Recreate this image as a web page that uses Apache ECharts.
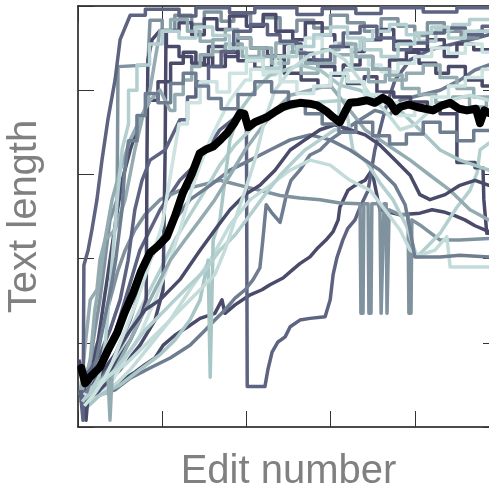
<!DOCTYPE html>
<html>
<head>
<meta charset="utf-8">
<script src="https://cdn.jsdelivr.net/npm/echarts@6/dist/echarts.min.js"></script>
<style>
html,body{margin:0;padding:0;background:#fff;}
#main{width:489px;height:484px;}
</style>
</head>
<body>
<div id="main"></div>
<script>
// x = edit number (0-100), y = text length (0-500), ticks without labels
var xTicks = [0, 20, 40, 60, 80, 100];
var yTicks = [0, 100, 200, 300, 400, 500];

// mean text length (thick black)
var meanLine = [[0.8,70],[1.7,52],[3,60],[5.2,71],[7,90],[9.3,112],[11,135],[13.1,159],[15,185],[17.1,207],[19,215],[21.1,226],[23,250],[24.9,278],[27,300],[28.9,325],[30.5,330],[32.1,333],[34,342],[35.4,349],[37,360],[38.5,373],[39.5,372],[40.4,356],[42,362],[44.9,368],[47,375],[48.7,380],[50.5,383],[52.7,385],[55,384],[56.8,382],[59,375],[60.6,368],[62.2,362],[63.5,375],[64.6,385],[66.5,386],[68.6,388],[70.5,385],[72.4,391],[74,386],[75.5,375],[76.5,380],[78.5,383],[80.5,380],[82.5,378],[84.3,376],[86.5,382],[88.4,385],[90.5,378],[92.4,376],[94.5,378],[95.5,361],[96.5,376],[97.6,373],[100,372]];

// single articles
var art1 = [[0.5,32],[2.4,26],[4,38],[6.4,42],[8.8,50],[11.2,58],[13.5,65],[15.9,74],[18.3,82],[20.2,97],[23,109],[26.1,119],[29,129],[32.5,135],[34.2,151],[34.9,135],[37.3,145],[40.9,157],[43.7,163],[45.6,169],[48.7,177],[50.8,186],[52.7,194],[55.1,202],[57,213],[58.9,222],[60.6,232],[61.8,246],[62.2,261],[64.1,281],[65.8,287],[68.2,293],[69.8,305],[71.7,258],[76.5,252],[81.2,254],[84.1,258],[87.2,255],[89.5,251],[91.9,246],[94.3,239],[97.6,232],[100,230]];
var art2 = [[2.9,44],[7.6,91],[11.2,151],[14.7,210],[19.5,258],[24.2,293],[29,317],[33.7,353],[37.3,367],[40,373],[40.2,48],[44.4,48],[45.1,68],[46.1,89],[47.5,101],[49.2,107],[50.4,119],[52.7,127],[55.1,129],[58.7,131],[59.9,151],[60.6,181],[61.5,201],[62.9,222],[64.1,236],[65.8,246],[67,261],[68.9,281],[70.5,329],[72.9,376],[75.3,412],[78.9,436],[83.6,448],[88.4,454],[93.1,460],[97.6,466],[100,466]];
var art3 = [[1,20],[2.9,30],[5.2,38],[8.8,44],[12.4,58],[17.1,70],[21.9,82],[26.6,97],[30.2,115],[32.5,127],[34.9,139],[37.3,153],[39.7,163],[41.6,175],[43.2,189],[43.9,222],[44.7,264],[46.1,254],[48,243],[48.7,258],[49.6,278],[50.6,293],[52.7,305],[55.1,323],[57.5,329],[59.9,341],[63.4,353],[67,365],[70.5,376],[74.1,371],[76.5,388],[81.2,394],[86,400],[90.7,412],[94.3,424],[97.6,430],[100,430]];
var art4 = [[0.5,38],[2.4,56],[4,91],[5.7,115],[7.6,151],[9.5,186],[11.2,210],[13.5,234],[15.9,252],[19.5,270],[24.2,281],[29,287],[33.7,293],[38.5,287],[43.2,281],[48,275],[52.7,272],[57.5,270],[62.2,266],[67,265],[67.2,135],[67.7,135],[67.9,265],[68.9,265],[69.1,135],[69.6,135],[69.8,265],[71.7,265],[72,135],[72.4,135],[72.7,265],[73.2,265],[73.4,135],[73.6,135],[73.9,258],[76.5,252],[78.4,252],[78.6,135],[79.1,135],[79.3,246],[81.2,240],[86,222],[90.7,222],[97.6,224],[100,224]];
var art5 = [[1,32],[2.9,44],[5.2,56],[8.8,80],[12.4,115],[15.9,151],[19.5,186],[23,222],[26.6,252],[30.2,281],[33.7,311],[37.3,335],[40.9,353],[44.4,371],[48,376],[52.7,382],[57.5,386],[63.4,388],[65.3,329],[68.6,314],[71.7,290],[74.8,270],[78.1,238],[80.5,202],[82.9,214],[86,230],[90,261],[93.1,281],[94.8,302],[95.5,329],[97.6,337],[100,340]];
var art6 = [[1.4,26],[4,34],[7.6,44],[12.4,68],[17.1,97],[21.9,127],[26.6,163],[31.4,198],[36.1,240],[40.9,270],[45.6,287],[50.4,305],[55.1,317],[59.9,311],[64.6,293],[69.4,281],[72.9,258],[76.5,234],[78.9,210],[81.2,204],[84.8,210],[87.6,226],[88.4,190],[97.6,190],[100,190]];
var art7 = [[1.9,38],[5.2,56],[8.8,86],[12.4,127],[14.7,163],[17.1,198],[19.5,222],[23,246],[26.6,270],[31.4,287],[36.1,305],[40.9,317],[45.6,329],[50.4,341],[55.1,347],[59.9,341],[64.6,329],[68.2,317],[71.7,305],[75.3,287],[77.7,264],[78.9,234],[80,202],[86,202],[90.7,204],[97.6,202],[100,202]];
var art8 = [[1.4,32],[3.3,68],[4.8,103],[6.2,151],[7.6,198],[9,246],[10.5,293],[12.4,329],[14.7,365],[17.1,388],[19,388],[19,410],[22,410],[22,432],[25,432],[25,445],[28,445],[28,430],[31,430],[31,452],[35,452],[35,440],[38,440],[38,462],[41,462],[41,450],[45,450],[45,441],[49,441],[49,455],[53,455],[53,436],[57,436],[57,428],[61,428],[61,418],[64,418],[64,408],[68,408],[68,416],[71,416],[71,398],[75,398],[75,392],[79,392],[79,386],[83,386],[83,380],[86,380],[86,372],[90,372],[90,314],[94.3,314],[94.3,308],[96.2,308],[96.4,270],[97.1,230],[100,230]];
var art9 = [[1.7,38],[4,115],[5.2,151],[6.4,198],[7.6,246],[9.3,270],[9.5,428],[16.6,430],[17.1,483],[20,483],[20,470],[23,470],[23,489],[27,489],[27,478],[30,478],[30,493],[34,493],[34,482],[37,482],[37,490],[41,490],[41,476],[44,476],[44,486],[48,486],[48,470],[52,470],[52,483],[56,483],[56,474],[60,474],[60,489],[64,489],[64,480],[68,480],[68,470],[72,470],[72,485],[76,485],[76,476],[80,476],[80,465],[83,465],[83,480],[87,480],[87,470],[91,470],[91,462],[95,462],[95,470],[100,470]];
var art10 = [[1.7,32],[5.2,50],[8.8,74],[12.4,103],[14.7,127],[16.2,151],[16.4,329],[16.6,436],[17.6,460],[19.5,471],[21,471],[21,452],[24,452],[24,440],[27,440],[27,432],[30,432],[30,440],[32,440],[32,428],[35,428],[35,445],[38,445],[38,435],[42,435],[42,426],[46,426],[46,438],[49,438],[49,420],[53,420],[53,412],[57,412],[57,404],[60,404],[60,418],[63,418],[63,430],[67,430],[67,440],[70,440],[70,425],[74,425],[74,436],[78,436],[78,445],[81,445],[81,432],[85,432],[85,420],[88,420],[88,428],[92,428],[92,412],[96,412],[96,405],[100,405]];
var art11 = [[2.4,34],[5.2,44],[10,68],[14.7,97],[18.3,127],[20.2,163],[20.7,329],[20.9,471],[24,471],[24,480],[27,480],[27,466],[30,466],[30,485],[33,485],[33,472],[36,472],[36,488],[40,488],[40,476],[44,476],[44,490],[47,490],[47,470],[51,470],[51,460],[54,460],[54,480],[58,480],[58,466],[61,466],[61,452],[65,452],[65,446],[68,446],[68,460],[72,460],[72,472],[75,472],[75,458],[79,458],[79,448],[83,448],[83,460],[87,460],[87,440],[90,440],[90,455],[94,455],[94,448],[100,448]];
var art12 = [[0.5,38],[1.7,97],[2.9,151],[4.5,163],[5.2,198],[6.4,222],[8.8,234],[11.2,270],[13.5,329],[15.2,365],[17.1,400],[18.3,436],[19.5,471],[22,471],[22,484],[26,484],[26,470],[29,470],[29,458],[32,458],[32,446],[35,446],[35,455],[39,455],[39,440],[43,440],[43,450],[46,450],[46,432],[50,432],[50,445],[53,445],[53,420],[57,420],[57,432],[61,432],[61,442],[65,442],[65,425],[69,425],[69,410],[73,410],[73,418],[77,418],[77,402],[81,402],[81,395],[85,395],[85,385],[89,385],[89,392],[93,392],[93,380],[97,380],[97,388],[100,388]];
var art13 = [[1,20],[4,32],[7.6,50],[11.2,80],[14.7,109],[18.3,151],[21.9,198],[24.2,234],[26.6,276],[29,311],[31.4,341],[33.7,365],[36.1,388],[39.7,412],[41,412],[41,425],[44,425],[44,418],[47,418],[47,440],[50,440],[50,452],[54,452],[54,462],[58,462],[58,448],[61,448],[61,456],[65,456],[65,440],[69,440],[69,430],[72,430],[72,422],[76,422],[76,432],[80,432],[80,440],[84,440],[84,450],[88,450],[88,444],[92,444],[92,455],[96,455],[96,445],[100,445]];
var art14 = [[1.4,20],[5.2,38],[10,50],[14.7,68],[19.5,86],[23,103],[26.6,127],[29,151],[30.9,198],[31.4,59],[31.8,59],[32.1,222],[33.7,246],[34.9,293],[36.1,341],[38.5,376],[42,400],[45.6,418],[49.2,424],[52.7,430],[57.5,424],[62.2,406],[67,400],[71.7,388],[76.5,376],[81.2,353],[86,329],[90.7,317],[97.6,305],[100,305]];
var art15 = [[0.5,50],[2.9,44],[5.2,56],[7.1,62],[7.6,8],[8.1,62],[11.2,91],[14.7,127],[18.3,163],[21.9,198],[25.4,222],[29,246],[32.5,270],[36.1,299],[39.7,329],[43.2,353],[46.8,376],[50.4,394],[55.1,400],[59.9,406],[64.6,376],[68.2,353],[71.7,341],[75.3,329],[78.9,317],[83.6,299],[88.4,281],[93.1,258],[97.6,246],[100,246]];
var art16 = [[0.2,80],[1.4,56],[1.9,8],[2.4,38],[5.2,62],[8.8,86],[12.4,115],[15.9,139],[19.5,151],[24.2,175],[29,210],[32.5,234],[36.1,258],[39.7,276],[43.2,287],[46.8,305],[50.4,329],[53.9,341],[57.5,353],[61,359],[64.6,353],[68.2,347],[71.7,335],[75.3,317],[78.9,299],[81.2,276],[83.6,270],[87.2,276],[90.7,287],[94.3,293],[97.6,287],[100,287]];
var art17 = [[0.5,44],[1.2,8],[1.4,192],[2.4,210],[3.3,234],[4.5,270],[5.7,317],[7.1,365],[8.8,412],[10,460],[12.4,489],[16,489],[16,496],[24,496],[24,488],[28,488],[28,498],[36,498],[36,492],[42,492],[42,498],[52,498],[52,490],[58,490],[58,497],[66,497],[66,491],[72,491],[72,498],[82,498],[82,493],[90,493],[90,498],[100,498]];
var art18 = [[1.7,34],[5.2,50],[8.8,68],[12.4,91],[15.9,115],[19.5,133],[23,151],[26.6,169],[30.2,186],[33.7,210],[37.3,228],[40.9,252],[44.4,276],[48,299],[51.5,317],[53.9,329],[57.5,341],[61,353],[62,353],[62,400],[63.4,424],[65,424],[65,448],[67,448],[67,460],[70,460],[70,470],[74,470],[74,478],[78,478],[78,466],[81,466],[81,458],[85,458],[85,472],[89,472],[89,478],[93,478],[93,484],[100,484]];
var art19 = [[1,44],[2.9,80],[4,139],[5.2,175],[6.4,222],[8.1,270],[10,305],[12.4,341],[14.7,365],[17.1,388],[19.5,400],[21.9,376],[23,376],[23,395],[25,395],[25,412],[27,412],[27,428],[29,428],[29,442],[32,442],[32,460],[35,460],[35,472],[38,472],[38,462],[41,462],[41,450],[44,450],[44,440],[47,440],[47,456],[51,456],[51,445],[54,445],[54,432],[58,432],[58,448],[62,448],[62,455],[66,455],[66,440],[70,440],[70,425],[74,425],[74,412],[78,412],[78,420],[82,420],[82,430],[86,430],[86,415],[90,415],[90,402],[94,402],[94,392],[100,392]];
var art20 = [[0.7,56],[2.9,68],[5.2,86],[7.6,115],[10,151],[11.9,198],[13.5,258],[15.2,293],[17.1,317],[20.7,329],[24.2,365],[26,365],[26,392],[28,392],[28,410],[31,410],[31,428],[34,428],[34,446],[37,446],[37,470],[41,470],[41,478],[45,478],[45,466],[48,466],[48,458],[52,458],[52,444],[56,444],[56,436],[60,436],[60,452],[63,452],[63,468],[67,468],[67,476],[71,476],[71,462],[75,462],[75,448],[79,448],[79,456],[83,456],[83,468],[87,468],[87,474],[92,474],[92,466],[96,466],[96,476],[100,476]];
var art21 = [[1.4,38],[4,50],[7.6,62],[11.2,74],[14.7,91],[18.3,109],[21.9,127],[25.4,145],[29,163],[32.5,181],[34.9,210],[37.3,246],[39.7,281],[42,317],[44.4,365],[46.8,400],[50.4,424],[55.1,442],[59.9,448],[63.4,436],[67,412],[69.4,394],[72.9,376],[76.5,353],[80,359],[83.6,376],[88.4,388],[93.1,394],[97.6,388],[100,388]];
var art22 = [[1,30],[3,42],[5,60],[6.5,100],[7.5,160],[8.5,220],[9.5,280],[10.5,330],[12,360],[12,400],[14,400],[14,430],[17,430],[17,455],[20,455],[20,470],[24,470],[24,462],[28,462],[28,475],[32,475],[32,465],[36,465],[36,450],[40,450],[40,438],[44,438],[44,426],[48,426],[48,440],[52,440],[52,452],[56,452],[56,466],[60,466],[60,475],[64,475],[64,462],[68,462],[68,448],[72,448],[72,440],[76,440],[76,455],[80,455],[80,468],[84,468],[84,475],[88,475],[88,462],[92,462],[92,470],[100,470]];
var art23 = [[1.5,25],[4,40],[6,55],[8,75],[10,100],[12,125],[14,150],[16,180],[18,210],[20,240],[21,270],[22,300],[23,330],[24,360],[26,360],[26,385],[29,385],[29,410],[33,410],[33,398],[36,398],[36,420],[40,420],[40,435],[44,435],[44,422],[48,422],[48,410],[52,410],[52,396],[56,396],[56,405],[60,405],[60,420],[64,420],[64,410],[68,410],[68,395],[72,395],[72,385],[76,385],[76,370],[80,370],[80,380],[84,380],[84,392],[88,392],[88,405],[92,405],[92,415],[96,415],[96,425],[100,425]];
var art24 = [[2,40],[4,70],[6,120],[8,170],[9,200],[10.5,260],[11,300],[12,340],[14,340],[14,370],[16,370],[16,396],[19,396],[19,385],[22,385],[22,408],[25,408],[25,420],[28,420],[28,405],[31,405],[31,390],[34,390],[34,378],[38,378],[38,395],[42,395],[42,410],[46,410],[46,398],[50,398],[50,385],[54,385],[54,372],[58,372],[58,360],[62,360],[62,350],[66,350],[66,362],[70,362],[70,346],[74,346],[74,336],[78,336],[78,348],[82,348],[82,362],[86,362],[86,350],[90,350],[90,340],[94,340],[94,352],[100,352]];

var articles = [art1, art2, art3, art4, art5, art6, art7, art8, art9, art10, art11, art12,
                art13, art14, art15, art16, art17, art18, art19, art20, art21, art22, art23, art24];
var articleColors = ['#4a4b6b', '#5d6380', '#6f7d90', '#7f929e', '#b3d0cf', '#c3dcda', '#6f7d90',
                     '#4a4b6b', '#7f929e', '#4a4b6b', '#4a4b6b', '#94acb1', '#cde3e1', '#a9c6c6',
                     '#94acb1', '#4a4b6b', '#5d6380', '#b3cfcf', '#94acb1', '#5d6380', '#c3dcda',
                     '#b3cfcf', '#cde3e1', '#6f7d90'];

var myChart = echarts.init(document.getElementById('main'), null, {renderer: 'canvas'});

var axisCommon = {
    type: 'value',
    axisLine: {show: true, onZero: false, lineStyle: {color: '#111', width: 1.5}},
    axisTick: {show: true, inside: true, length: 16, lineStyle: {color: '#333', width: 1}},
    axisLabel: {show: false},
    splitLine: {show: false}
};
var titleStyle = {fontSize: 40, color: '#808080', fontFamily: 'Liberation Sans, Arial, sans-serif'};

var series = [];
for (var i = 0; i < articles.length; i++) {
    series.push({
        type: 'line',
        data: articles[i],
        symbol: 'none',
        silent: true,
        lineStyle: {color: articleColors[i], width: 3.5, join: 'round'},
        z: 2
    });
}
series.push({
    type: 'line',
    data: meanLine,
    symbol: 'none',
    silent: true,
    lineStyle: {color: '#000', width: 8, join: 'round', cap: 'round'},
    z: 5
});

var option = {
    animation: false,
    backgroundColor: '#fff',
    grid: {left: 78, top: 6, right: -10, bottom: 57, containLabel: false, outerBoundsMode: 'none'},
    xAxis: [
        echarts.util.merge({
            min: xTicks[0], max: xTicks[xTicks.length - 1], interval: xTicks[1] - xTicks[0],
            position: 'bottom',
            name: 'Edit number', nameLocation: 'middle', nameGap: 25, nameTextStyle: titleStyle
        }, axisCommon, true),
        echarts.util.merge({
            min: xTicks[0], max: xTicks[xTicks.length - 1], interval: xTicks[1] - xTicks[0],
            position: 'top'
        }, axisCommon, true)
    ],
    yAxis: [
        echarts.util.merge({
            min: yTicks[0], max: yTicks[yTicks.length - 1], interval: yTicks[1] - yTicks[0],
            position: 'left',
            name: 'Text length', nameLocation: 'middle', nameGap: 33, nameRotate: 90, nameTextStyle: titleStyle
        }, axisCommon, true),
        echarts.util.merge({
            min: yTicks[0], max: yTicks[yTicks.length - 1], interval: yTicks[1] - yTicks[0],
            position: 'right'
        }, axisCommon, true)
    ],
    series: series
};

myChart.setOption(option);
</script>
</body>
</html>
